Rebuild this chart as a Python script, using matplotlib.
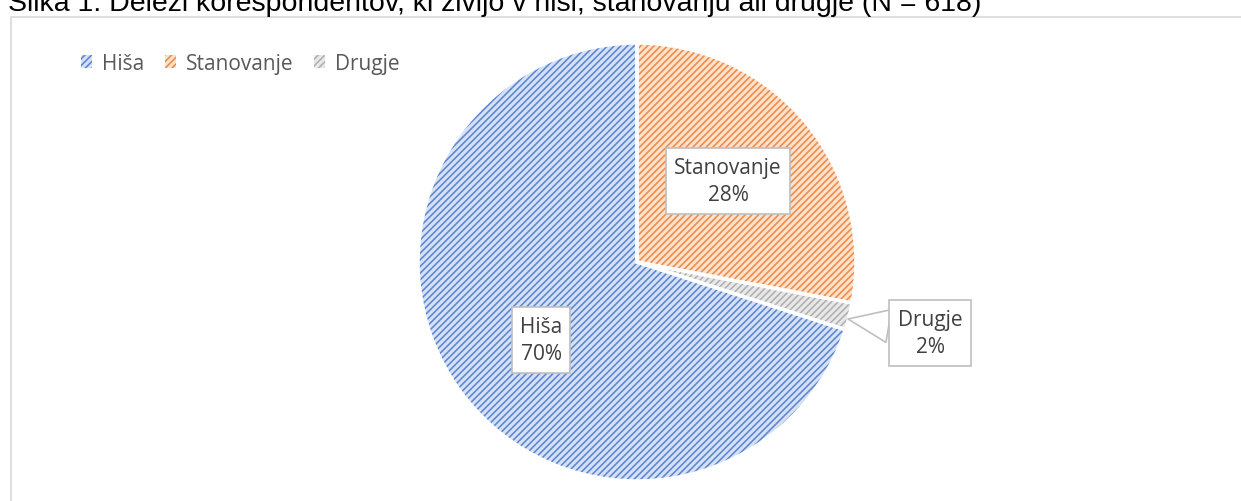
import matplotlib
matplotlib.use("Agg")
import matplotlib.pyplot as plt
from matplotlib.patches import Rectangle, Wedge

labels = ["Hiša", "Stanovanje", "Drugje"]
shares = [70, 28, 2]
fills = ["#d6e1f5", "#fde2ce", "#e8e8e8"]
hatch_cols = ["#5a86d2", "#f08a45", "#b0b0b0"]
title = "Slika 1: Deleži korespondentov, ki živijo v hiši, stanovanju ali drugje (N = 618)"

plt.rcParams["font.family"] = ["Open Sans", "DejaVu Sans"]
plt.rcParams["hatch.linewidth"] = 1.15

fig = plt.figure(figsize=(12.41, 5.02), dpi=100)
fig.patch.set_facecolor("white")

# chart frame, cut off at right and bottom
fig.add_artist(Rectangle((11 / 1241, -0.05), 1.1, 1 - 18 / 502 + 0.05,
                         transform=fig.transFigure, fill=False,
                         edgecolor="#d9d9d9", linewidth=1.2))

fig.text(8 / 1241, 1 + 9 / 502, title, family="Liberation Sans",
         fontsize=20.5, color="black", ha="left", va="top")

ax = fig.add_axes([0, 0, 1, 1])

wedges, _ = ax.pie(shares, center=(637, 239), radius=219, startangle=-18,
                   counterclock=False, colors=fills, frame=True,
                   wedgeprops=dict(linewidth=0))
for w, hc in zip(wedges, hatch_cols):
    w.set_hatch("/////")
    w.set_edgecolor(hc)
    w.set_linewidth(0)
ax.set_xlim(0, 1241)
ax.set_ylim(0, 502)
ax.set_aspect("equal")
ax.axis("off")

# white separators between slices
for w in wedges:
    ax.add_patch(Wedge(w.center, w.r, w.theta1, w.theta2, fill=False,
                       edgecolor="white", linewidth=2.5))

box = dict(boxstyle="square,pad=0.4", facecolor="white", edgecolor="#bfbfbf",
           linewidth=1.2)
txt = dict(fontsize=15, color="#404040", ha="center", va="center",
           linespacing=1.4)
ax.text(728, 502 - 182, f"{labels[1]}\n{shares[1]}%", bbox=box, **txt)
ax.text(541, 502 - 341, f"{labels[0]}\n{shares[0]}%", bbox=box, **txt)
ax.annotate(f"{labels[2]}\n{shares[2]}%", xy=(848, 502 - 320),
            xytext=(930, 502 - 334), bbox=box,
            arrowprops=dict(arrowstyle="wedge,tail_width=1.6,shrink_factor=0.5",
                            facecolor="white", edgecolor="#bfbfbf",
                            linewidth=1.2, shrinkA=0, shrinkB=0),
            **txt)

leg = ax.legend(wedges, labels, loc="upper left", ncol=3, frameon=False,
                bbox_to_anchor=(62 / 1241, 1 - 35 / 502),
                bbox_transform=fig.transFigure,
                fontsize=15, handlelength=0.55, handleheight=0.55,
                handletextpad=0.45, columnspacing=1.0, labelcolor="#595959")

fig.savefig("out.png", dpi=100)
